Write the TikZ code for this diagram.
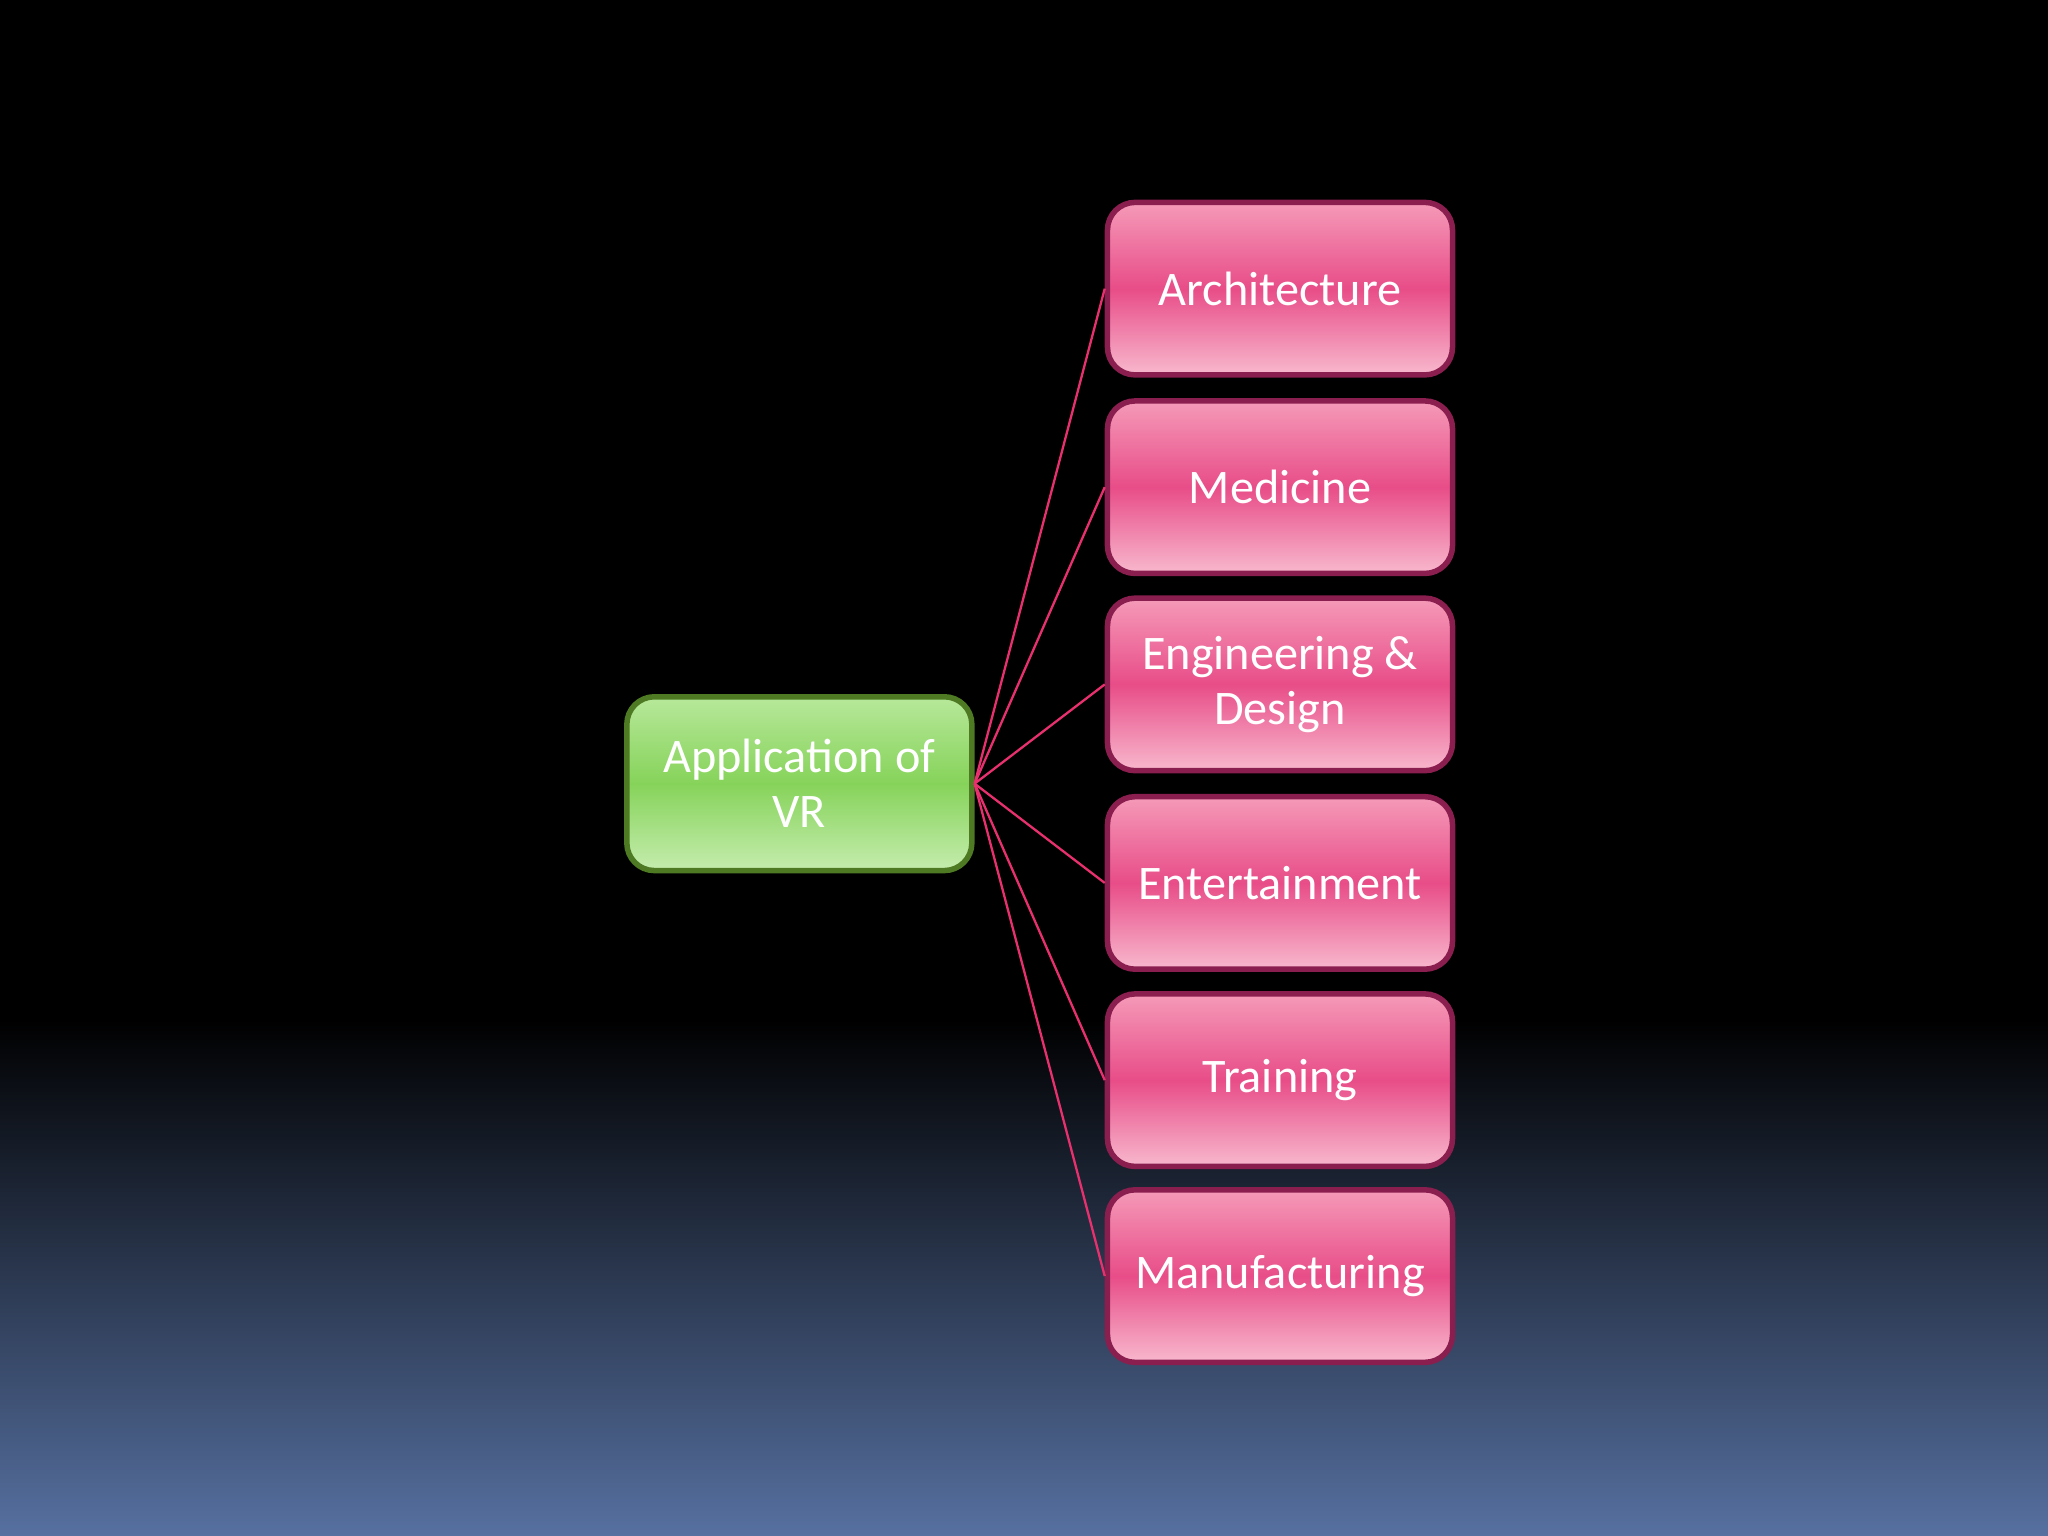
\documentclass[tikz,border=0pt]{standalone}
\usepackage{fontspec}
\setmainfont{Carlito}
\begin{document}
\begin{tikzpicture}[x=0.01cm,y=-0.01cm,
  pinkbox/.style={draw=pinkedge,line width=1.2pt,rounded corners=6pt,minimum width=2.64cm,minimum height=1.32cm,
    top color=pinktop,bottom color=pinktop!70!white,middle color=pinkmid,text=white,align=center,
    font=\fontsize{10.5}{12}\selectfont,inner sep=0pt},
  greenbox/.style={draw=greenedge,line width=1.2pt,rounded corners=6pt,minimum width=2.64cm,minimum height=1.33cm,
    top color=greentop,bottom color=greentop!80!white,middle color=greenmid,text=white,align=center,
    font=\fontsize{10.5}{12}\selectfont,inner sep=0pt},
  link/.style={draw=pinkline,line width=0.5pt}]
\definecolor{pinktop}{HTML}{F59AB8}
\definecolor{pinkmid}{HTML}{E84D88}
\definecolor{pinkedge}{HTML}{8A1E4E}
\definecolor{pinkline}{HTML}{E8306E}
\definecolor{greentop}{HTML}{B7E89A}
\definecolor{greenmid}{HTML}{86D35A}
\definecolor{greenedge}{HTML}{4D7A22}
\definecolor{bgblue}{HTML}{5670A0}
\fill[black] (0,0) rectangle (1568,1176);
\shade[top color=black,bottom color=bgblue] (0,780) rectangle (1568,1176);
\useasboundingbox (0,0) rectangle (1568,1176);
\node[greenbox] (vr) at (612,600) {Application of\\VR};
\node[pinkbox] (a) at (980,221) {Architecture};
\node[pinkbox] (b) at (980,373) {Medicine};
\node[pinkbox] (c) at (980,524) {Engineering \&\\Design};
\node[pinkbox] (d) at (980,676) {Entertainment};
\node[pinkbox] (e) at (980,827) {Training};
\node[pinkbox] (f) at (980,977) {Manufacturing};
\foreach \n in {a,b,c,d,e,f} \draw[link] (vr.east) -- (\n.west);
\end{tikzpicture}
\end{document}
